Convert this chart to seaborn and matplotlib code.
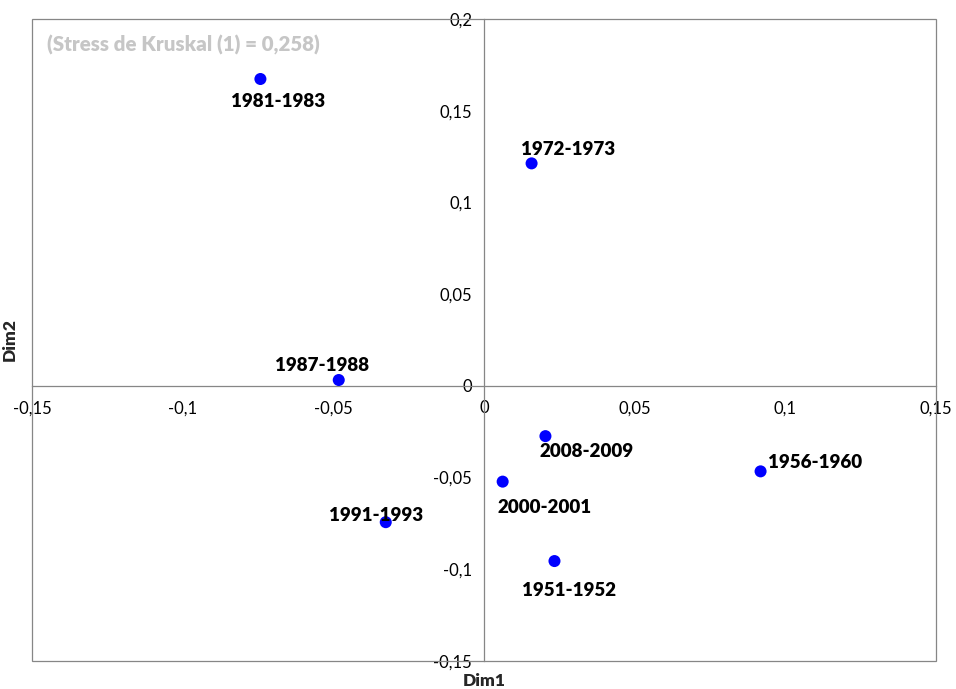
import numpy as np
import pandas as pd
import matplotlib
matplotlib.use('Agg')
import matplotlib.pyplot as plt
from matplotlib.patches import Rectangle
import seaborn as sns

###############################################################################
# Data
###############################################################################
periods = ['1981-1983', '1972-1973', '1987-1988', '1991-1993',
           '2008-2009', '2000-2001', '1951-1952', '1956-1960']
dim1 = [-0.0742, 0.0158, -0.0482, -0.0326, 0.0204, 0.0062, 0.0234, 0.0918]
dim2 = [0.1673, 0.1213, 0.0032, -0.0743, -0.0274, -0.0522, -0.0955, -0.0466]
xTicks = [-0.15, -0.1, -0.05, 0, 0.05, 0.1, 0.15]
xTickLabels = ['-0,15', '-0,1', '-0,05', '0', '0,05', '0,1', '0,15']
yTicks = [-0.15, -0.1, -0.05, 0, 0.05, 0.1, 0.15, 0.2]
yTickLabels = ['-0,15', '-0,1', '-0,05', '0', '0,05', '0,1', '0,15', '0,2']
stressTxt = '(Stress de Kruskal (1) = 0,258)'
# label offsets (pixels) -----------------------------------------------------
lblOff = {
    '1981-1983': (18, -23), '1972-1973': (36, 14), '1987-1988': (-17, 15),
    '1991-1993': (-10, 7), '2008-2009': (41, -15), '2000-2001': (42, -26),
    '1951-1952': (15, -29), '1956-1960': (54, 9)
}
df = pd.DataFrame({'Periode': periods, 'Dim1': dim1, 'Dim2': dim2})
###############################################################################
# Plot
###############################################################################
sns.set_style('white')
plt.rcParams['font.family'] = ['Lato', 'DejaVu Sans']
AX_C = '#868686'

fig = plt.figure(figsize=(9.56, 6.89), dpi=100)
ax = fig.add_axes([0.0335, 0.0406, 0.9455, 0.9318])
sns.scatterplot(
    data=df, x='Dim1', y='Dim2', color='#0000ff',
    s=75, edgecolor='none', ax=ax, zorder=3
)
for (p, x, y) in zip(periods, dim1, dim2):
    ax.annotate(
        p, (x, y), xytext=lblOff[p], textcoords='offset pixels',
        ha='center', va='center', fontsize=13.5, fontweight='heavy', color='k'
    )
ax.set_xlim(-0.15, 0.15)
ax.set_ylim(-0.15, 0.2)
ax.set_xticks(xTicks, xTickLabels)
ax.set_yticks(yTicks, yTickLabels)
# Axes crossing at origin -----------------------------------------------------
for s in ('top', 'right'):
    ax.spines[s].set_visible(False)
for s in ('left', 'bottom'):
    ax.spines[s].set_position(('data', 0))
    ax.spines[s].set_color(AX_C)
    ax.spines[s].set_linewidth(0.9)
ax.tick_params(
    axis='both', direction='inout', length=9, width=0.9,
    color=AX_C, labelsize=12, labelcolor='k'
)
ax.tick_params(axis='x', pad=6)
ax.tick_params(axis='y', pad=4)
ax.add_patch(Rectangle(
    (0, 0), 1, 1, transform=ax.transAxes, fill=False,
    ec=AX_C, lw=0.9, clip_on=False, zorder=1
))
# Titles ----------------------------------------------------------------------
ax.set_xlabel('Dim1', fontsize=12.5, fontweight='heavy')
ax.set_ylabel('Dim2', fontsize=12.5, fontweight='heavy')
ax.xaxis.set_label_coords(0.5, -0.018, transform=ax.transAxes)
ax.xaxis.label.set_va('top')
ax.yaxis.set_label_coords(-0.016, 0.5, transform=ax.transAxes)
ax.text(
    0.017, 0.96, stressTxt, transform=ax.transAxes,
    fontsize=14.8, fontweight='heavy', color='#c6c6c6', ha='left', va='center'
)
plt.savefig('out.png', dpi=100, facecolor='w')
plt.close('all')
